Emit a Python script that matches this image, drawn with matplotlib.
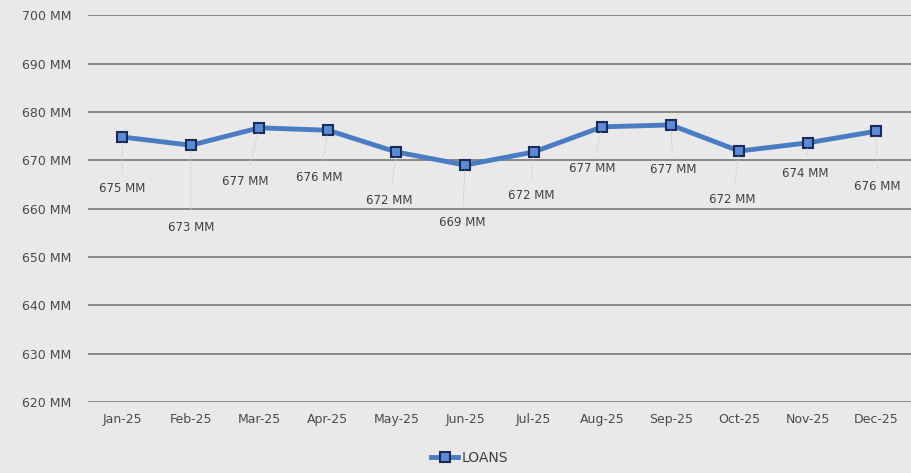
import numpy as np
import matplotlib.pyplot as plt

months = ['Jan-25', 'Feb-25', 'Mar-25', 'Apr-25', 'May-25', 'Jun-25',
          'Jul-25', 'Aug-25', 'Sep-25', 'Oct-25', 'Nov-25', 'Dec-25']
loans = [674.8, 673.1, 676.7, 676.2, 671.7, 669.0,
         671.7, 676.9, 677.3, 671.9, 673.6, 676.0]
labels = ['675 MM', '673 MM', '677 MM', '676 MM', '672 MM', '669 MM',
          '672 MM', '677 MM', '677 MM', '672 MM', '674 MM', '676 MM']
yticks = [620, 630, 640, 650, 660, 670, 680, 690, 700]

# label offsets in points (dx, dy) below each marker
offsets = [(0, -37), (0, -59), (-10, -39), (-6, -34), (-5, -35), (-2, -41),
           (-2, -31), (-7, -30), (2, -32), (-5, -35), (-2, -22), (1, -40)]

bg = '#e9e9e9'
fig = plt.figure(figsize=(9.11, 4.73), dpi=100, facecolor=bg)
ax = fig.add_axes([0.0966, 0.150, 0.903, 0.818], facecolor=bg)

x = np.arange(len(months))
ax.plot(x, loans, color='#4a7cc4', lw=3.5, marker='s', ms=7,
        mfc='#5b8bd6', mec='#1c2b55', mew=1.5, label='LOANS', zorder=3)

for i, (v, t) in enumerate(zip(loans, labels)):
    dx, dy = offsets[i]
    ax.annotate(t, (i, v), xytext=(dx, dy), textcoords='offset points',
                ha='center', va='center', fontsize=8.5, color='#404040',
                arrowprops=dict(arrowstyle='-', color='#d2d2d2', lw=0.5,
                                shrinkA=5, shrinkB=4))

ax.set_xlim(-0.5, 11.5)
ax.set_ylim(620, 700)
ax.set_yticks(yticks)
ax.set_yticklabels([f'{v} MM' for v in yticks])
ax.set_xticks(x)
ax.set_xticklabels(months)
ax.grid(axis='y', color='#808080', lw=1.3)
ax.set_axisbelow(True)
for s in ax.spines.values():
    s.set_visible(False)
ax.tick_params(length=0, labelsize=9, colors='#4a4a4a', pad=8)
ax.tick_params(axis='y', pad=12)

fig.legend(loc='lower center', bbox_to_anchor=(0.515, -0.01), frameon=False,
           fontsize=10, handlelength=2.0, handletextpad=0.2,
           labelcolor='#404040')

fig.savefig('out.png', dpi=100, facecolor=bg)
